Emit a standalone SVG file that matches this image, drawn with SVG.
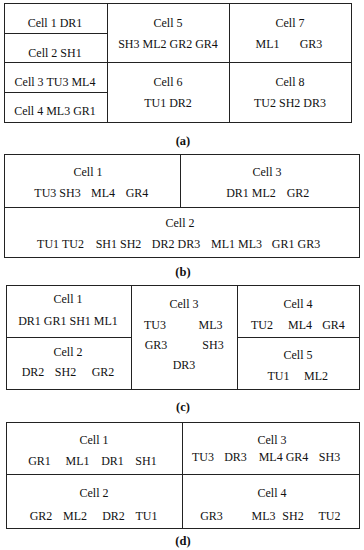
<svg xmlns="http://www.w3.org/2000/svg" width="364" height="550" viewBox="0 0 364 550">
<style>
.b{fill:none;stroke:#222;stroke-width:1}
.l{stroke:#222;stroke-width:1}
text{font-family:"Liberation Serif","Times New Roman",serif;font-size:12px;fill:#111;text-anchor:middle}
.cap{font-weight:bold;font-size:12.5px}
</style>
<rect width="364" height="550" fill="#fff"/>
<g id="connectors">
<!-- (a) -->
<rect class="b" x="4.5" y="3.5" width="347" height="119"/>
<line class="l" x1="107.5" y1="3.5" x2="107.5" y2="122.5"/>
<line class="l" x1="229.5" y1="3.5" x2="229.5" y2="122.5"/>
<line class="l" x1="4.5" y1="62.5" x2="351.5" y2="62.5"/>
<line class="l" x1="4.5" y1="33.5" x2="107.5" y2="33.5"/>
<line class="l" x1="4.5" y1="92.5" x2="107.5" y2="92.5"/>
<!-- (b) -->
<rect class="b" x="4.5" y="154.5" width="355" height="103"/>
<line class="l" x1="180.5" y1="154.5" x2="180.5" y2="207.5"/>
<line class="l" x1="4.5" y1="207.5" x2="359.5" y2="207.5"/>
<!-- (c) -->
<rect class="b" x="6.5" y="285.5" width="353" height="104"/>
<line class="l" x1="131.5" y1="285.5" x2="131.5" y2="389.5"/>
<line class="l" x1="237.5" y1="285.5" x2="237.5" y2="389.5"/>
<line class="l" x1="6.5" y1="337.5" x2="131.5" y2="337.5"/>
<line class="l" x1="237.5" y1="337.5" x2="359.5" y2="337.5"/>
<!-- (d) -->
<rect class="b" x="6.5" y="422.5" width="353" height="106"/>
<line class="l" x1="182.5" y1="422.5" x2="182.5" y2="528.5"/>
<line class="l" x1="6.5" y1="474.5" x2="359.5" y2="474.5"/>
</g>
<g id="panel-a">
<g id="a-cell1"><text x="55" y="27">Cell 1 DR1</text></g>
<g id="a-cell2"><text x="55" y="57">Cell 2 SH1</text></g>
<g id="a-cell3"><text x="55" y="86">Cell 3 TU3 ML4</text></g>
<g id="a-cell4"><text x="55" y="115">Cell 4 ML3 GR1</text></g>
<g id="a-cell5"><text x="168" y="27">Cell 5</text><text x="168" y="48">SH3 ML2 GR2 GR4</text></g>
<g id="a-cell7"><text x="290" y="27">Cell 7</text><text x="267.5" y="48">ML1</text><text x="311" y="48">GR3</text></g>
<g id="a-cell6"><text x="168" y="86">Cell 6</text><text x="168" y="107">TU1 DR2</text></g>
<g id="a-cell8"><text x="290" y="86">Cell 8</text><text x="290" y="107">TU2 SH2 DR3</text></g>
<text class="cap" x="183" y="145">(a)</text>
</g>
<g id="panel-b">
<g id="b-cell1"><text x="88" y="176">Cell 1</text><text x="57.5" y="197">TU3 SH3</text><text x="103" y="197">ML4</text><text x="137" y="197">GR4</text></g>
<g id="b-cell3"><text x="267" y="176">Cell 3</text><text x="251" y="197">DR1 ML2</text><text x="298" y="197">GR2</text></g>
<g id="b-cell2"><text x="180" y="227">Cell 2</text><text x="60.5" y="248">TU1 TU2</text><text x="118.5" y="248">SH1 SH2</text><text x="176" y="248">DR2 DR3</text><text x="236.5" y="248">ML1 ML3</text><text x="296" y="248">GR1 GR3</text></g>
<text class="cap" x="183" y="276">(b)</text>
</g>
<g id="panel-c">
<g id="c-cell1"><text x="68" y="303">Cell 1</text><text x="68" y="325">DR1 GR1 SH1 ML1</text></g>
<g id="c-cell2"><text x="68" y="356">Cell 2</text><text x="33" y="376">DR2</text><text x="65.5" y="376">SH2</text><text x="103" y="376">GR2</text></g>
<g id="c-cell3"><text x="184" y="308">Cell 3</text><text x="155" y="329">TU3</text><text x="210.5" y="329">ML3</text><text x="156" y="349">GR3</text><text x="213" y="349">SH3</text><text x="184" y="369">DR3</text></g>
<g id="c-cell4"><text x="298" y="308">Cell 4</text><text x="262" y="329">TU2</text><text x="300" y="329">ML4</text><text x="333.5" y="329">GR4</text></g>
<g id="c-cell5"><text x="298" y="359">Cell 5</text><text x="278.5" y="380">TU1</text><text x="316" y="380">ML2</text></g>
<text class="cap" x="183" y="411">(c)</text>
</g>
<g id="panel-d">
<g id="d-cell1"><text x="94" y="444">Cell 1</text><text x="39.5" y="465">GR1</text><text x="77.5" y="465">ML1</text><text x="112.5" y="465">DR1</text><text x="146" y="465">SH1</text></g>
<g id="d-cell3"><text x="272" y="444">Cell 3</text><text x="203" y="461">TU3</text><text x="235.5" y="461">DR3</text><text x="283.5" y="461">ML4 GR4</text><text x="329.5" y="461">SH3</text></g>
<g id="d-cell2"><text x="94" y="497">Cell 2</text><text x="41" y="520">GR2</text><text x="75" y="520">ML2</text><text x="113.5" y="520">DR2</text><text x="146.5" y="520">TU1</text></g>
<g id="d-cell4"><text x="272" y="497">Cell 4</text><text x="211.5" y="520">GR3</text><text x="263.5" y="520">ML3</text><text x="293" y="520">SH2</text><text x="329.5" y="520">TU2</text></g>
<text class="cap" x="183" y="545">(d)</text>
</g>
</svg>
